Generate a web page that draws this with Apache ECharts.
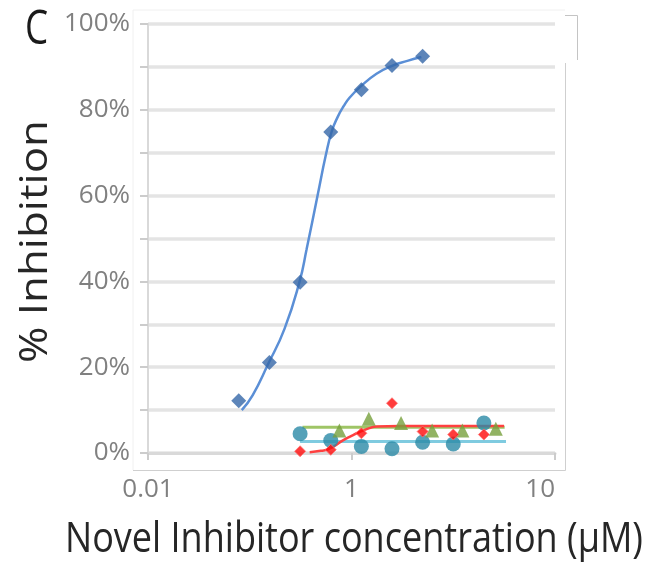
<!DOCTYPE html>
<html>
<head>
<meta charset="utf-8">
<script src="https://cdn.jsdelivr.net/npm/echarts@6/dist/echarts.min.js"></script>
<style>
  html, body { margin: 0; padding: 0; background: #ffffff; }
  #chart { width: 659px; height: 563px; }
</style>
</head>
<body>
<div id="chart"></div>
<script>
// Concentrations in µM, responses in % inhibition.
const blueConc  = [0.078, 0.156, 0.3125, 0.625, 1.25, 2.5, 5];
const blueInhib = [12.2, 21.1, 39.8, 74.8, 84.7, 90.3, 92.5];
const blueFitConc  = [0.0835, 0.107, 0.150, 0.220, 0.309, 0.362, 0.464, 0.56, 0.64, 0.73, 0.84, 0.956, 1.225, 1.76, 2.47, 3.54, 4.86];
const blueFitInhib = [10, 13.5, 20.5, 29, 40, 47.5, 60, 69.5, 75, 78.3, 80.9, 82.8, 85.4, 88.4, 90.2, 91.4, 92.3];

const tealConc  = [0.3125, 0.625, 1.25, 2.5, 5, 10, 20];
const tealInhib = [4.5, 2.9, 1.5, 1.0, 2.5, 2.1, 7.0];
const tealFitConc  = [0.3125, 33];
const tealFitInhib = [2.7, 2.7];

const greenConc  = [0.76, 1.48, 3.07, 6.2, 12.3, 26.2];
const greenInhib = [5.25, 8.0, 7.0, 5.25, 5.25, 5.65];
const greenFitConc  = [0.33, 32];
const greenFitInhib = [6.0, 6.0];

const redConc  = [0.3125, 0.625, 1.25, 2.5, 5, 10, 20];
const redInhib = [0.4, 0.75, 4.6, 11.6, 5.0, 4.3, 4.3];
const redFitConc  = [0.388, 0.5, 0.609, 0.816, 1.0, 1.198, 1.5, 1.76, 2.95, 31.6];
const redFitInhib = [0.2, 0.5, 1.0, 2.9, 4.0, 4.9, 5.8, 6.2, 6.3, 6.3];

const xTickValues = [0.01, 1, 100];
const xTickLabels = ['0.01', '1', '10'];
const yTickValues = [0, 20, 40, 60, 80, 100];
const yTickLabels = ['0%', '20%', '40%', '60%', '80%', '100%'];

const FONT = '"Open Sans", "Noto Sans", sans-serif';

function zip(xs, ys) { return xs.map((x, i) => [x, ys[i]]); }

function labelFor(values, labels, v) {
  for (let i = 0; i < values.length; i++) {
    if (Math.abs(values[i] - v) <= Math.abs(values[i]) * 1e-6 + 1e-9) return labels[i];
  }
  return '';
}

function textWidth(str, size) {
  const ctx = document.createElement('canvas').getContext('2d');
  ctx.font = size + 'px ' + FONT;
  return ctx.measureText(str).width;
}

const diamond = 'path://M0,-1L1,0L0,1L-1,0Z';

const yTitle = '% Inhibition';
const xTitle = 'Novel Inhibitor concentration (\u00b5M)';
const yTitleSize = 38, xTitleSize = 42;

const chart = echarts.init(document.getElementById('chart'), null, { renderer: 'canvas' });

const borderColor = '#cfcfcf';

chart.setOption({
  animation: false,
  backgroundColor: '#ffffff',
  grid: { left: 148, right: 104, top: 24, bottom: 110, containLabel: false, outerBoundsMode: 'none' },
  xAxis: {
    type: 'log',
    logBase: 100,
    min: 0.01,
    max: 100,
    splitNumber: 2,
    axisLine: { show: true, onZero: false, lineStyle: { color: '#d9d9d9', width: 3 } },
    axisTick: { show: true, length: 7, lineStyle: { color: '#cccccc', width: 2 } },
    splitLine: { show: false },
    axisLabel: {
      fontFamily: FONT, fontSize: 26, color: '#808080', margin: 24,
      alignMaxLabel: 'right',
      formatter: v => labelFor(xTickValues, xTickLabels, v)
    }
  },
  yAxis: {
    type: 'value',
    min: 0,
    max: 100,
    interval: 10,
    axisLine: { show: true, lineStyle: { color: '#d9d9d9', width: 2 } },
    axisTick: { show: true, length: 8, lineStyle: { color: '#cccccc', width: 2 } },
    splitLine: { show: true, lineStyle: { color: '#e4e4e4', width: 3.5 } },
    axisLabel: {
      fontFamily: FONT, fontSize: 26, color: '#808080', margin: 18,
      formatter: v => labelFor(yTickValues, yTickLabels, v)
    }
  },
  series: [
    { type: 'line', data: zip(blueFitConc, blueFitInhib), smooth: 0.5, showSymbol: false,
      lineStyle: { color: '#5b8fd6', width: 2.5 }, z: 2 },
    { type: 'line', data: zip(tealFitConc, tealFitInhib), showSymbol: false,
      lineStyle: { color: '#7fcbe0', width: 3 }, z: 2 },
    { type: 'line', data: zip(greenFitConc, greenFitInhib), showSymbol: false,
      lineStyle: { color: '#9fc566', width: 3 }, z: 2 },
    { type: 'line', data: zip(redFitConc, redFitInhib), smooth: 0.5, showSymbol: false,
      lineStyle: { color: '#ff4040', width: 2.5 }, z: 3 },
    { type: 'scatter', data: zip(blueConc, blueInhib), symbol: diamond, symbolSize: 15,
      itemStyle: { color: '#3566a8' }, z: 5 },
    { type: 'scatter', data: zip(tealConc, tealInhib), symbol: 'circle', symbolSize: 15,
      itemStyle: { color: '#2b8aa6' }, z: 4 },
    { type: 'scatter', data: zip(greenConc, greenInhib), symbol: 'triangle', symbolSize: 14,
      itemStyle: { color: '#77a03c' }, z: 4 },
    { type: 'scatter', data: zip(redConc, redInhib), symbol: diamond, symbolSize: 11,
      itemStyle: { color: '#ff0a0a', borderColor: '#ff7070', borderWidth: 1 }, z: 6 }
  ],
  graphic: [
    // plot-area frame
    { type: 'polyline', silent: true, shape: { points: [[133, 10], [565, 10]] },
      style: { stroke: '#f0f0f0', lineWidth: 1, fill: null } },
    { type: 'polyline', silent: true, shape: { points: [[133, 10], [133, 470]] },
      style: { stroke: '#f0f0f0', lineWidth: 1, fill: null } },
    { type: 'polyline', silent: true, shape: { points: [[133, 470.5], [565.5, 470.5], [565.5, 63]] },
      style: { stroke: borderColor, lineWidth: 1, fill: null } },
    { type: 'polyline', silent: true, shape: { points: [[565, 15.5], [577.5, 15.5], [577.5, 60]] },
      style: { stroke: '#c4c4c4', lineWidth: 1, fill: null } },
    // panel letter
    { type: 'text', x: 36.5, y: 30, scaleX: 0.92, scaleY: 1.19, silent: true,
      style: { text: 'C', font: '40px ' + FONT, fill: '#1a1a1a', align: 'center', verticalAlign: 'middle' } },
    // axis titles
    { type: 'text', x: 36.5, y: 241.5, rotation: Math.PI / 2,
      scaleX: 243 / textWidth(yTitle, yTitleSize), scaleY: 1, silent: true,
      style: { text: yTitle, font: yTitleSize + 'px ' + FONT, fill: '#262626', align: 'center', verticalAlign: 'middle' } },
    { type: 'text', x: 354, y: 540, scaleX: 578 / textWidth(xTitle, xTitleSize), scaleY: 1, silent: true,
      style: { text: xTitle, font: xTitleSize + 'px ' + FONT, fill: '#262626', align: 'center', verticalAlign: 'middle' } }
  ]
});
</script>
</body>
</html>
